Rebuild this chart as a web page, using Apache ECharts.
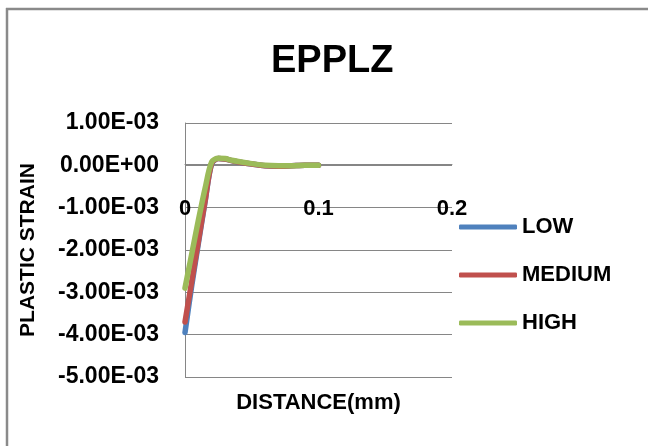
<!DOCTYPE html>
<html>
<head>
<meta charset="utf-8">
<script src="https://cdn.jsdelivr.net/npm/echarts@6/dist/echarts.min.js"></script>
<style>
html,body{margin:0;padding:0;background:#fff;}
#c{width:648px;height:446px;}
</style>
</head>
<body>
<div id="c"></div>
<script>
var distance = [0, 0.005, 0.01, 0.015, 0.02, 0.025, 0.03, 0.035, 0.04, 0.05, 0.06, 0.07, 0.08, 0.09, 0.1];
var lowVals = [-0.00395, -0.00285, -0.00185, -0.00087, 0.00004, 0.00016, 0.00015, 0.00011, 0.00008, 0.00003, -0.00001, -0.00002, -0.00001, 0, 0];
var mediumVals = [-0.0037, -0.00275, -0.0018, -0.00085, 0.00005, 0.00016, 0.00015, 0.00011, 0.00008, 0.00003, -0.00001, -0.00002, -0.00001, 0, 0];
var highVals = [-0.0029, -0.0021, -0.0013, -0.00055, 0.00008, 0.00017, 0.00016, 0.00012, 0.00009, 0.00004, 0.0, -0.00001, -0.00001, 0, 0];
var seriesNames = ['LOW', 'MEDIUM', 'HIGH'];
var yTickLabels = ['-5.00E-03', '-4.00E-03', '-3.00E-03', '-2.00E-03', '-1.00E-03', '0.00E+00', '1.00E-03'];
var xTickLabels = ['0', '0.1', '0.2'];

var Y_MIN = -0.005, Y_INT = 0.001, X_MIN = 0, X_INT = 0.1;
var colors = ['#4F81BD', '#C0504D', '#9BBB59'];
var FONT = '"Liberation Sans", Arial, sans-serif';

function pairs(xs, ys) { return xs.map(function (x, i) { return [x, ys[i]]; }); }
var allVals = [lowVals, mediumVals, highVals];

var chart = echarts.init(document.getElementById('c'), null, {renderer: 'canvas'});
var legendTops = [210, 258, 306];
var option = {
  backgroundColor: '#ffffff',
  animation: false,
  title: {
    text: 'EPPLZ', left: 266, top: 38,
    textStyle: {fontFamily: FONT, fontWeight: 'bold', fontSize: 38, color: '#000'}
  },
  graphic: [
    {type: 'line', shape: {x1: 6, y1: 9, x2: 648, y2: 9}, style: {stroke: '#8a8a8a', lineWidth: 2.5}},
    {type: 'line', shape: {x1: 7, y1: 8, x2: 7, y2: 446}, style: {stroke: '#8a8a8a', lineWidth: 2.5}}
  ],
  legend: seriesNames.map(function (n, i) {
    return {
      data: [n], orient: 'vertical', left: 454, top: legendTops[i],
      icon: 'roundRect', itemWidth: 58, itemHeight: 5, itemGap: 0,
      textStyle: {fontFamily: FONT, fontWeight: 'bold', fontSize: 22, color: '#000', lineHeight: 24, padding: [0, 0, 0, 0]}
    };
  }),
  grid: {left: 185, right: 196, top: 123, bottom: 69, containLabel: false, outerBoundsMode: 'none'},
  xAxis: {
    type: 'value', min: X_MIN, max: 0.2, interval: X_INT,
    offset: -213,
    name: 'DISTANCE(mm)', nameLocation: 'middle', nameGap: 228,
    nameTextStyle: {fontFamily: FONT, fontWeight: 'bold', fontSize: 22, color: '#000'},
    axisLine: {show: true, onZero: false, lineStyle: {color: '#868686', width: 1}},
    axisTick: {show: false},
    splitLine: {show: false},
    axisLabel: {
      margin: 34, fontFamily: FONT, fontWeight: 'bold', fontSize: 22, color: '#000',
      formatter: function (v) { return xTickLabels[Math.round((v - X_MIN) / X_INT)]; }
    }
  },
  yAxis: {
    type: 'value', min: Y_MIN, max: 0.001, interval: Y_INT,
    name: 'PLASTIC STRAIN', nameLocation: 'middle', nameGap: 146,
    nameTextStyle: {fontFamily: FONT, fontWeight: 'bold', fontSize: 21, color: '#000'},
    axisLine: {show: true, onZero: false, lineStyle: {color: '#868686', width: 1}},
    axisTick: {show: false},
    splitLine: {show: true, lineStyle: {color: '#868686', width: 1}},
    axisLabel: {
      margin: 26, fontFamily: FONT, fontWeight: 'bold', fontSize: 23, color: '#000',
      formatter: function (v) { return yTickLabels[Math.round((v - Y_MIN) / Y_INT)]; }
    }
  },
  series: seriesNames.map(function (n, i) {
    return {
      name: n, type: 'line', data: pairs(distance, allVals[i]),
      showSymbol: false, symbol: 'none', smooth: 0.3,
      lineStyle: {color: colors[i], width: 5.5, cap: 'round', join: 'round'},
      itemStyle: {color: colors[i]}, z: 2 + i
    };
  })
};
chart.setOption(option);
</script>
</body>
</html>
